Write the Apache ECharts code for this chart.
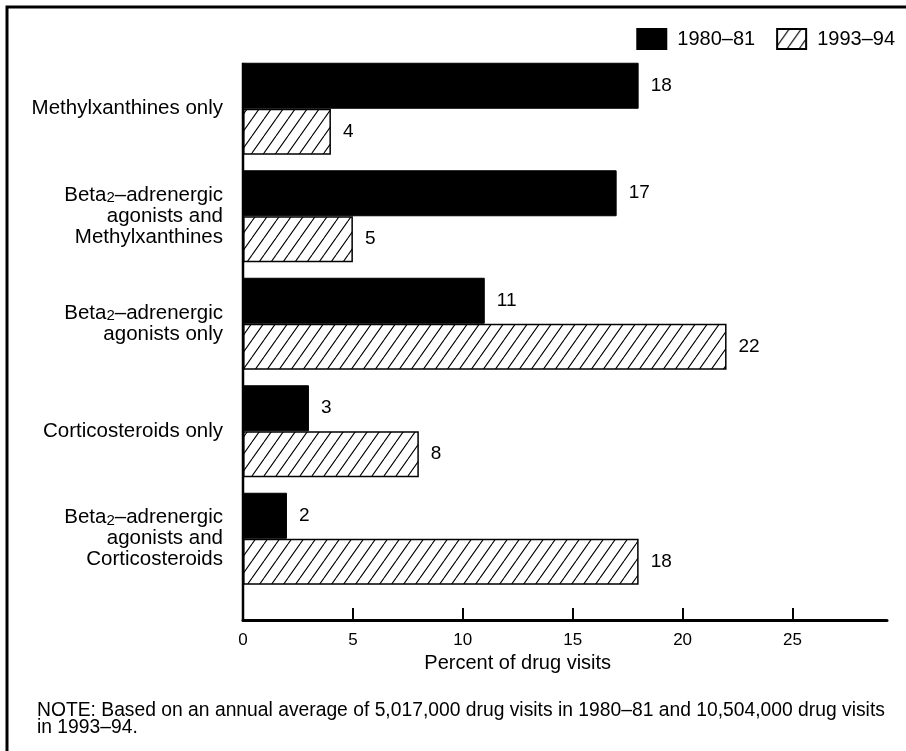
<!DOCTYPE html>
<html><head><meta charset="utf-8">
<script src="https://cdn.jsdelivr.net/npm/echarts@6/dist/echarts.min.js"></script>
<style>html,body{margin:0;padding:0;background:#fff}#c{width:906px;height:751px}</style>
</head><body><div id="c"></div>
<script>
const categories = [
  'Methylxanthines only',
  'Beta2–adrenergic\nagonists and\nMethylxanthines',
  'Beta2–adrenergic\nagonists only',
  'Corticosteroids only',
  'Beta2–adrenergic\nagonists and\nCorticosteroids'
];
const seriesNames = ['1980–81', '1993–94'];
const values1980 = [18, 17, 11, 3, 2];
const values1993 = [4, 5, 22, 8, 18];
const xTicks = [0, 5, 10, 15, 20, 25];
const xMax = 29.3;
const axisTitle = 'Percent of drug visits';
const axisTitleCenter = 12.5;
const noteText = 'NOTE: Based on an annual average of 5,017,000 drug visits in 1980–81 and 10,504,000 drug visits\nin 1993–94.';

function hatch() {
  const w = 12, h = 17;
  const cv = document.createElement('canvas');
  cv.width = w; cv.height = h;
  const ctx = cv.getContext('2d');
  ctx.fillStyle = '#fff';
  ctx.fillRect(0, 0, w, h);
  ctx.strokeStyle = '#000';
  ctx.lineWidth = 1.1;
  ctx.beginPath();
  for (let k = -1; k <= 1; k++) {
    ctx.moveTo(k * w, h);
    ctx.lineTo(k * w + w, 0);
  }
  ctx.stroke();
  return cv;
}

const FONT = 'Liberation Sans, Arial, sans-serif';
const chart = echarts.init(document.getElementById('c'), null, {renderer: 'canvas'});
const gridLeft = 243, gridTop = 55, gridBottom = 158.5, gridRight = 19;
const axisOffset = 27.5;
const axisY = 751 - gridBottom + axisOffset;

const labelStyle = {show: true, position: 'right', distance: 12, fontFamily: FONT, fontSize: 19, color: '#000'};

chart.setOption({
  backgroundColor: '#fff',
  animation: false,
  textStyle: {fontFamily: FONT, color: '#000'},
  title: {
    text: noteText, left: 32, top: 697,
    textStyle: {fontFamily: FONT, fontSize: 19.3, fontWeight: 'normal', color: '#000', lineHeight: 17}
  },
  legend: {
    right: 6, top: 23, itemWidth: 29, itemHeight: 20, itemGap: 21,
    icon: 'rect',
    textStyle: {fontFamily: FONT, fontSize: 20, color: '#000', padding: [0, 0, 0, 6]},
    data: seriesNames
  },
  grid: {left: gridLeft, right: gridRight, top: gridTop, bottom: gridBottom, containLabel: false},
  xAxis: {
    type: 'value', min: 0, max: xMax, interval: 5,
    offset: axisOffset,
    axisLine: {show: true, lineStyle: {color: '#000', width: 3}},
    axisTick: {show: true, inside: true, length: 12, lineStyle: {color: '#000', width: 2}, customValues: xTicks},
    axisLabel: {fontFamily: FONT, fontSize: 17, color: '#000', margin: 12, customValues: xTicks},
    splitLine: {show: false}
  },
  yAxis: {
    type: 'category', data: categories, inverse: true,
    axisLine: {show: false},
    axisTick: {show: false},
    axisLabel: {
      fontFamily: FONT, fontSize: 20.5, color: '#000', margin: 20, lineHeight: 21, align: 'right',
      formatter: v => v.replace(/Beta2/g, 'Beta{sub|2}'),
      rich: {sub: {fontFamily: FONT, fontSize: 15, lineHeight: 21, verticalAlign: 'bottom', color: '#000'}}
    }
  },
  series: [
    {
      name: seriesNames[0], type: 'bar', data: values1980, barWidth: 46, barGap: '0%',
      itemStyle: {color: '#000', borderColor: '#000', borderWidth: 1},
      label: labelStyle
    },
    {
      name: seriesNames[1], type: 'bar', data: values1993, barWidth: 46, barGap: '0%',
      itemStyle: {color: {image: hatch(), repeat: 'repeat'}, borderColor: '#000', borderWidth: 1.5},
      label: labelStyle
    }
  ]
});

const titleX = chart.convertToPixel({xAxisIndex: 0}, axisTitleCenter);
const firstBarTop = chart.convertToPixel({yAxisIndex: 0}, categories[0]) - 46;
chart.setOption({
  graphic: [
    {type: 'line', shape: {x1: gridLeft, y1: firstBarTop, x2: gridLeft, y2: axisY + 1}, style: {stroke: '#000', lineWidth: 2.5}, z: 10},
    {type: 'rect', shape: {x: 7, y: 7, width: 920, height: 800}, style: {fill: null, stroke: '#000', lineWidth: 3}, z: 10},
    {type: 'text', x: titleX, y: axisY + 33, style: {text: axisTitle, fontFamily: FONT, fontSize: 20, fill: '#000', align: 'center', verticalAlign: 'top'}}
  ]
});
</script></body></html>
